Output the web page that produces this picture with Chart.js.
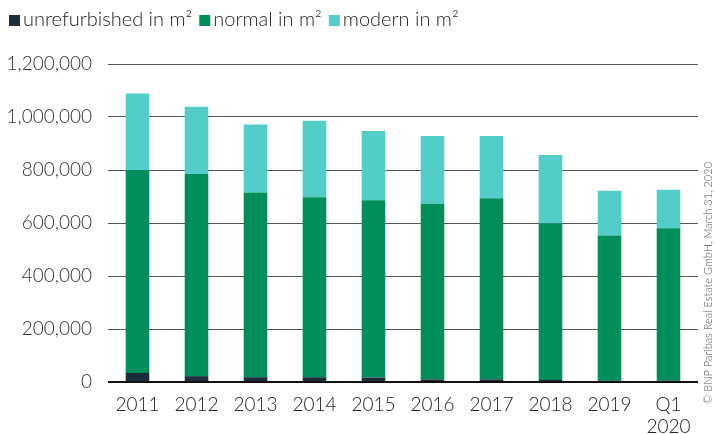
<!DOCTYPE html>
<html>
<head>
<meta charset="utf-8">
<script src="https://cdn.jsdelivr.net/npm/chart.js@4"></script>
<style>
html,body{margin:0;padding:0;background:#fff;}
#wrap{width:715px;height:434px;position:relative;}
</style>
</head>
<body>
<div id="wrap"><canvas id="c" width="715" height="434"></canvas></div>
<script>
const categories = ['2011','2012','2013','2014','2015','2016','2017','2018','2019',['Q1','2020']];
const unrefurbished = [34000, 22000, 18000, 18000, 17000, 10000, 10000, 8000, 5000, 5000];
const normal = [766000, 762500, 697500, 679000, 668500, 663000, 683000, 590000, 548000, 575500];
const modern = [289000, 254500, 256500, 288500, 261500, 255000, 235000, 259000, 169000, 145000];
const yTicks = [0, 200000, 400000, 600000, 800000, 1000000, 1200000];
const seriesLabels = ['unrefurbished in m²', 'normal in m²', 'modern in m²'];
const colors = ['#1d2d3a', '#008f5a', '#52cdc7'];
const copyright = '© BNP Paribas Real Estate GmbH, March 31, 2020';

const FONT = "Lato, sans-serif";

const customDraw = {
  id: 'customDraw',
  afterDraw(chart) {
    const ctx = chart.ctx;
    ctx.save();
    // legend
    ctx.font = '300 20px ' + FONT;
    ctx.textBaseline = 'middle';
    let x = 9;
    const y = 20;
    chart.data.datasets.forEach(ds => {
      ctx.fillStyle = ds.backgroundColor;
      ctx.fillRect(x, y - 5, 11, 11);
      x += 14;
      ctx.fillStyle = '#222';
      ctx.fillText(ds.label, x, y);
      x += ctx.measureText(ds.label).width + 7;
    });
    // copyright
    ctx.translate(708, 283);
    ctx.rotate(-Math.PI / 2);
    ctx.font = '300 11px ' + FONT;
    ctx.fillStyle = '#555';
    ctx.textAlign = 'center';
    ctx.textBaseline = 'middle';
    ctx.fillText(copyright, 0, 0);
    ctx.restore();
  }
};

new Chart(document.getElementById('c'), {
  type: 'bar',
  data: {
    labels: categories,
    datasets: [
      { label: seriesLabels[0], data: unrefurbished, backgroundColor: colors[0] },
      { label: seriesLabels[1], data: normal, backgroundColor: colors[1] },
      { label: seriesLabels[2], data: modern, backgroundColor: colors[2] }
    ]
  },
  options: {
    responsive: false,
    animation: false,
    devicePixelRatio: 1,
    layout: { padding: { top: 64, right: 17, left: 0, bottom: 0 } },
    datasets: { bar: { barPercentage: 0.4, categoryPercentage: 1.0 } },
    plugins: {
      legend: { display: false },
      tooltip: { enabled: false }
    },
    scales: {
      x: {
        stacked: true,
        grid: { display: false, drawTicks: false },
        border: { display: false },
        ticks: {
          color: '#222',
          padding: 12,
          maxRotation: 0,
          autoSkip: false,
          font: { family: FONT, size: 19, weight: '300', lineHeight: 1.16 }
        },
        afterFit(scale) { scale.height = 52; }
      },
      y: {
        stacked: true,
        min: 0,
        max: 1200000,
        afterBuildTicks(scale) { scale.ticks = yTicks.map(v => ({ value: v })); },
        grid: {
          drawTicks: false,
          color: ctx => ctx.tick && ctx.tick.value === 0 ? '#111' : '#555',
          lineWidth: ctx => ctx.tick && ctx.tick.value === 0 ? 2 : 1
        },
        border: { display: false },
        ticks: {
          color: '#333',
          padding: 16,
          font: { family: FONT, size: 19, weight: '300' },
          callback: v => Number(v).toLocaleString('en-US')
        },
        afterFit(scale) { scale.width = 108; }
      }
    }
  },
  plugins: [customDraw]
});
</script>
</body>
</html>
